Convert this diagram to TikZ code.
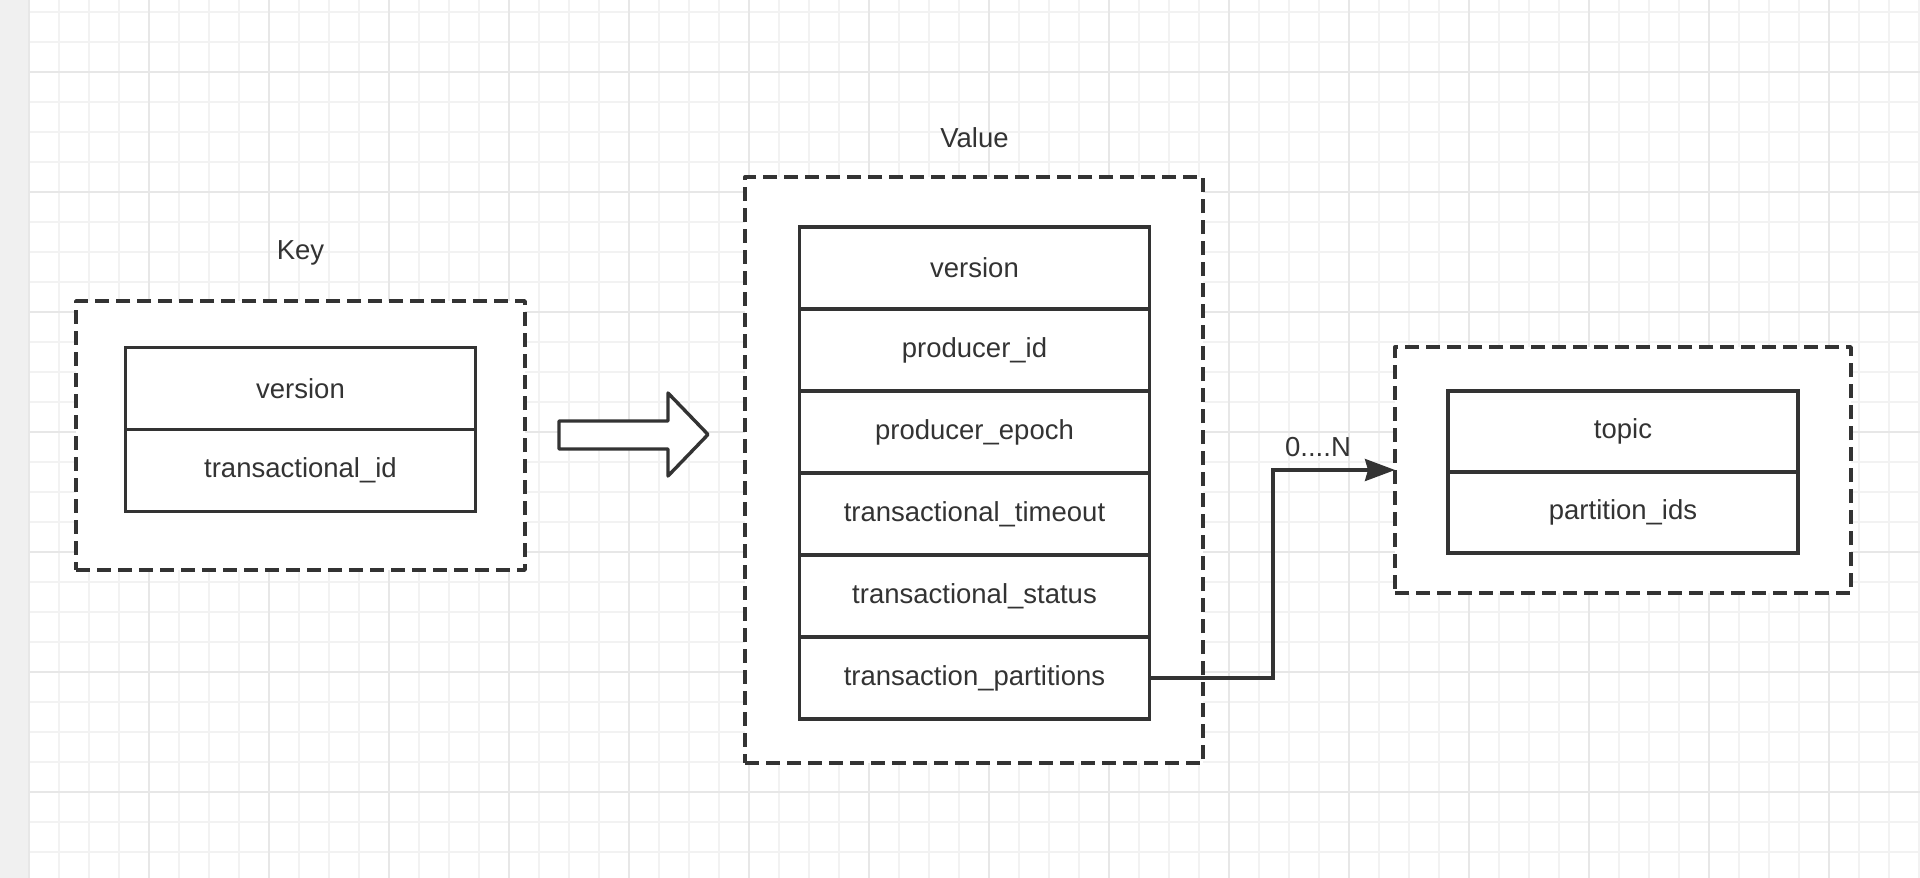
\documentclass[tikz,border=0pt]{standalone}
\usepackage{fontspec}
\setmainfont{Liberation Sans}
\usetikzlibrary{arrows.meta}
\definecolor{ink}{HTML}{333333}
\definecolor{gridminor}{HTML}{F2F2F2}
\definecolor{gridmajor}{HTML}{E7E7E7}
\definecolor{strip}{HTML}{F0F0F0}
\begin{document}
\begin{tikzpicture}[x=1pt,y=-1pt,
  txt/.style={text=ink,font=\fontsize{27.5}{31}\selectfont,inner sep=0pt,outer sep=0pt},
  dashbox/.style={draw=ink,fill=white,line width=3.4pt,dash pattern=on 14pt off 7pt,line join=round,inner sep=0pt,outer sep=0pt},
  cell/.style={draw=ink,fill=white,line width=3.4pt,inner sep=0pt,outer sep=0pt,minimum width=350pt,
    text=ink,font=\fontsize{27.5}{31}\selectfont},
  blockarrow/.style={draw=ink,fill=white,line width=3.4pt,line join=round},
  conn/.style={draw=ink,line width=3.2pt,-{Stealth[length=30pt,width=22pt,inset=3pt]}},
  minorline/.style={draw=gridminor,line width=1.6pt},
  majorline/.style={draw=gridmajor,line width=2pt}]
\useasboundingbox (0,0) rectangle (1920,878);
\fill[white] (0,0) rectangle (1920,878);
% grid
\foreach \gx in {59,89,...,1919} {\draw[minorline] (\gx,0) -- (\gx,878);}
\foreach \gy in {12,42,...,872} {\draw[minorline] (29,\gy) -- (1920,\gy);}
\foreach \gx in {149,269,...,1919} {\draw[majorline] (\gx,0) -- (\gx,878);}
\foreach \gy in {72,192,...,872} {\draw[majorline] (29,\gy) -- (1920,\gy);}
\fill[strip] (0,0) rectangle (29,878);
\draw[gridmajor,line width=1.5pt] (29,0) -- (29,878);

% dashed containers
\node[dashbox,minimum width=449pt,minimum height=269pt] (keybox) at (300.5,435.5) {};
\node[dashbox,minimum width=458pt,minimum height=586pt] (valbox) at (974,470) {};
\node[dashbox,minimum width=456pt,minimum height=246pt] (rightbox) at (1623,470) {};

% titles
\node[txt] (keylbl) at (300.5,253) {Key};
\node[txt] (vallbl) at (974.5,138) {Value};

% key table
\node[cell,minimum height=82pt] (k1) at (300.5,388.5) {version};
\node[cell,minimum height=82pt] (k2) at (300.5,470.5) {transactional\_id};

% value table
\node[cell,minimum height=82pt] (v1) at (974.5,268) {version};
\node[cell,minimum height=82pt] (v2) at (974.5,350) {producer\_id};
\node[cell,minimum height=82pt] (v3) at (974.5,432) {producer\_epoch};
\node[cell,minimum height=82pt] (v4) at (974.5,514) {transactional\_timeout};
\node[cell,minimum height=82pt] (v5) at (974.5,596) {transactional\_status};
\node[cell,minimum height=82pt] (v6) at (974.5,678) {transaction\_partitions};

% right table
\node[cell,minimum height=81pt] (r1) at (1623,431.5) {topic};
\node[cell,minimum height=81pt] (r2) at (1623,512.5) {partition\_ids};

% hollow block arrow
\draw[blockarrow] (559,421) -- (668,421) -- (668,393) -- (708,434.5) -- (668,476) -- (668,449) -- (559,449) -- cycle;

% connector
\coordinate (bend) at (1273,470);
\draw[conn] (v6.east) -| (bend) -- (rightbox.west);
\node[txt] (mult) at (1318,447) {0....N};
\end{tikzpicture}
\end{document}
